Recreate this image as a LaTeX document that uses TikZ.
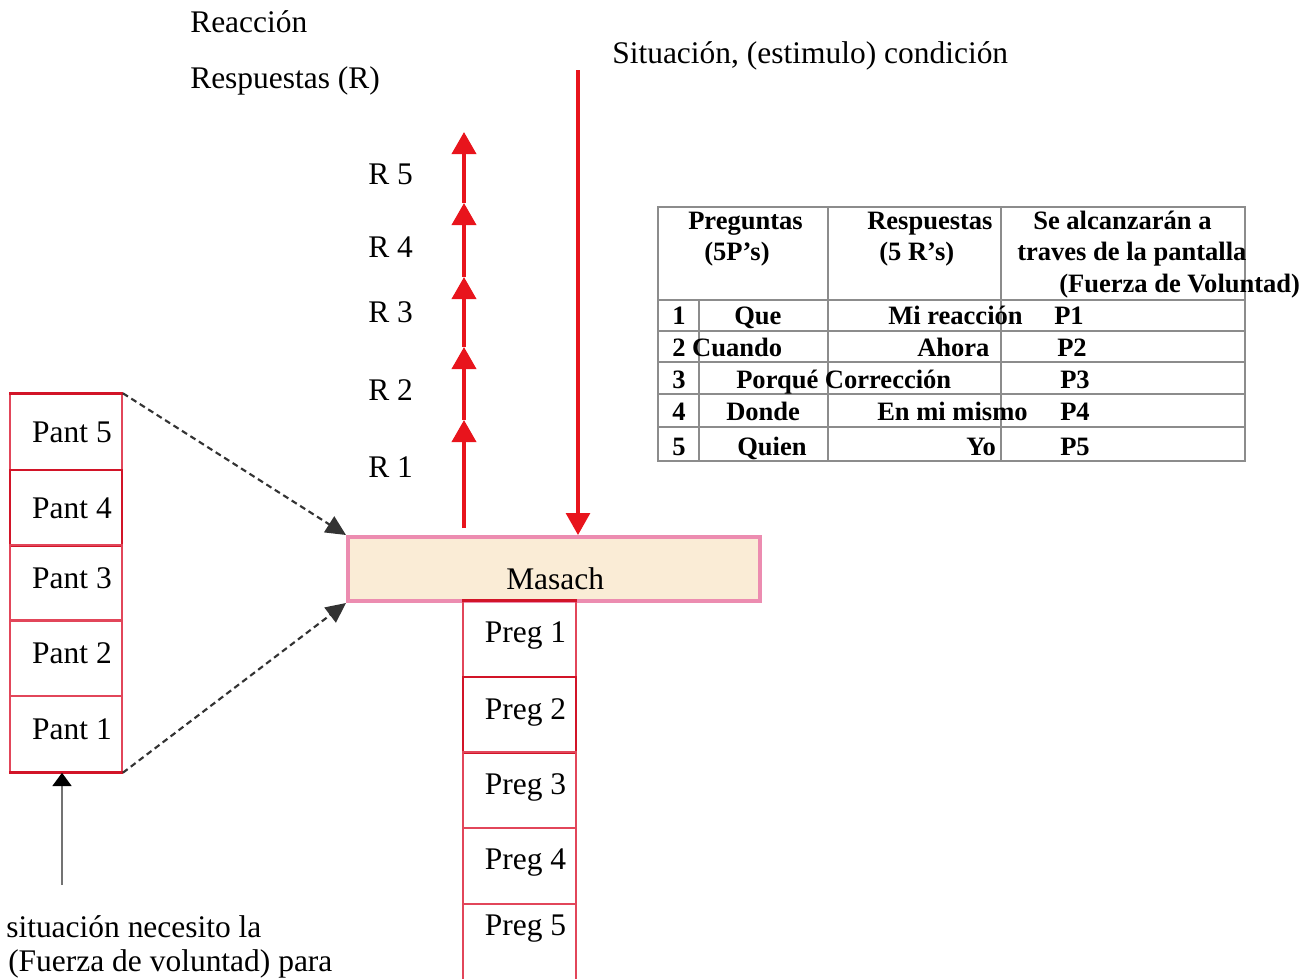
\documentclass[tikz,border=0pt]{standalone}
\usepackage{fontspec}
\setmainfont{Liberation Serif}
\usetikzlibrary{arrows.meta}
\definecolor{arrred}{RGB}{232,20,28}
\definecolor{cellred}{RGB}{226,70,90}
\definecolor{darkcell}{RGB}{210,20,40}
\definecolor{mpink}{RGB}{236,140,176}
\definecolor{mfill}{RGB}{250,236,214}
\definecolor{tgray}{RGB}{140,140,140}
\newcommand\bigfont{\fontsize{23.6pt}{28pt}\selectfont}
\newcommand\tabfont{\fontsize{19.9pt}{24pt}\selectfont\bfseries}
\tikzset{
  lbl/.style={anchor=base west, font=\bigfont, inner sep=0pt},
  tbl/.style={anchor=base west, font=\tabfont, inner sep=0pt},
  cellbox/.style={draw=cellred, line width=1.3pt, minimum width=84pt, minimum height=56.8pt, inner sep=0pt, font=\bigfont},
  cellstrong/.style={cellbox, draw=darkcell, line width=2pt},
  redarrow/.style={draw=arrred, line width=2.8pt, -{Triangle[length=16.5pt,width=18pt]}},
  dasharrow/.style={draw=black!80, line width=1.6pt, dash pattern=on 4.5pt off 3pt, -{Triangle[length=15pt,width=14pt]}},
  grayarrow/.style={draw=black!55, line width=2.2pt, -{Triangle[length=10pt,width=14pt,fill=black,color=black]}},
  tline/.style={draw=tgray, line width=1.5pt}
}
\begin{document}
\begin{tikzpicture}[x=0.75pt,y=-0.75pt]
\useasboundingbox (0,0) rectangle (1316,978);
% top labels
\node[lbl] (reac) at (190,32) {Reacción};
\node[lbl] (resp) at (190,88) {Respuestas (R)};
\node[lbl] (situ) at (612,63) {Situación, (estimulo) condición};
% R labels
\node[lbl] (lr5) at (368,184) {R 5};
\node[lbl] (lr4) at (368,257) {R 4};
\node[lbl] (lr3) at (368,322) {R 3};
\node[lbl] (lr2) at (368,400) {R 2};
\node[lbl] (lr1) at (368,477) {R 1};
% Masach
\node[draw=mpink, fill=mfill, line width=3pt, minimum width=309pt, minimum height=48pt, inner sep=0pt] (masach) at (554,569) {};
\node[lbl] (masachtxt) at (506,589) {Masach};
% up arrows
\coordinate (r0) at (464,528);
\coordinate (r1) at (464,420);
\coordinate (r2) at (464,347);
\coordinate (r3) at (464,277);
\coordinate (r4) at (464,203);
\coordinate (r5) at (464,132);
\draw[redarrow] (r0) -- (r1);
\draw[redarrow] (r1) -- (r2);
\draw[redarrow] (r2) -- (r3);
\draw[redarrow] (r3) -- (r4);
\draw[redarrow] (r4) -- (r5);
% down arrow
\coordinate (s0) at (578,70);
\draw[redarrow, line width=2.3pt] (s0) -- (s0 |- masach.north);
% Pant column
\node[cellbox] (pant5) at (66,432) {\hspace*{9pt}Pant 5};
\node[cellstrong] (pant4) at (66,508) {\hspace*{9pt}Pant 4};
\node[cellbox, text depth=7.5pt] (pant3) at (66,583) {\hspace*{9pt}Pant 3};
\node[cellbox, text depth=7.5pt] (pant2) at (66,658) {\hspace*{9pt}Pant 2};
\node[cellbox, text depth=7.5pt] (pant1) at (66,734) {\hspace*{9pt}Pant 1};
\draw[darkcell, line width=2pt] (pant5.north west) -- (pant5.north east);
\draw[darkcell, line width=2pt] (pant1.south west) -- (pant1.south east);
% Preg column
\node[cellbox, minimum width=84.75pt, text depth=9.6pt] (preg1) at (519.5,639) {\hspace*{9pt}Preg 1};
\node[cellstrong, minimum width=84.75pt, text depth=9.6pt] (preg2) at (519.5,715) {\hspace*{9pt}Preg 2};
\node[cellbox, minimum width=84.75pt, text depth=9.6pt] (preg3) at (519.5,790) {\hspace*{9pt}Preg 3};
\node[cellbox, minimum width=84.75pt, text depth=9.6pt] (preg4) at (519.5,866) {\hspace*{9pt}Preg 4};
\node[cellbox, minimum width=84.75pt, text depth=24.5pt] (preg5) at (519.5,942) {\hspace*{9pt}Preg 5};
\draw[darkcell, line width=2pt] (preg1.north west) -- (preg1.north east);
% dashed arrows
\draw[dasharrow] (pant5.north east) -- (masach.north west);
\draw[dasharrow] (pant1.south east) -- (masach.south west);
% gray arrow
\coordinate (g0) at (62,885);
\draw[grayarrow] (g0) -- (g0 |- pant1.south);
% bottom text
\node[lbl] (bot1) at (6,937) {situación necesito la};
\node[lbl] (bot2) at (8,971) {(Fuerza de voluntad) para};
% table
\draw[tline] (658,207) rectangle (1245,461);
\draw[tline] (658,300) -- (1245,300);
\draw[tline] (658,331) -- (1245,331);
\draw[tline] (658,362) -- (1245,362);
\draw[tline] (658,394) -- (1245,394);
\draw[tline] (658,427) -- (1245,427);
\draw[tline] (699,300) -- (699,461);
\draw[tline] (828,207) -- (828,461);
\draw[tline] (1001,207) -- (1001,461);
\node[tbl] (h1a) at (688,229) {Preguntas};
\node[tbl] (h1b) at (704,260) {(5P’s)};
\node[tbl] (h2a) at (867,229) {Respuestas};
\node[tbl] (h2b) at (879,260) {(5 R’s)};
\node[tbl] (h3a) at (1033,229) {Se alcanzarán a};
\node[tbl] (h3b) at (1017,260) {traves de la pantalla};
\node[tbl] (h3c) at (1059,292) {(Fuerza de Voluntad)};
\node[tbl] (n1) at (672,324) {1};
\node[tbl] (q1) at (734,324) {Que};
\node[tbl] (a1) at (888,324) {Mi reacción};
\node[tbl] (p1) at (1054,324) {P1};
\node[tbl] (q2) at (672,356) {2 Cuando};
\node[tbl] (a2) at (917,356) {Ahora};
\node[tbl] (p2) at (1057,356) {P2};
\node[tbl] (n3) at (672,388) {3};
\node[tbl] (q3) at (736,388) {Porqué Corrección};
\node[tbl] (p3) at (1060,388) {P3};
\node[tbl] (n4) at (672,420) {4};
\node[tbl] (q4) at (726,420) {Donde};
\node[tbl] (a4) at (877,420) {En mi mismo};
\node[tbl] (p4) at (1060,420) {P4};
\node[tbl] (n5) at (672,455) {5};
\node[tbl] (q5) at (737,455) {Quien};
\node[tbl] (a5) at (966,455) {Yo};
\node[tbl] (p5) at (1060,455) {P5};
\end{tikzpicture}
\end{document}
